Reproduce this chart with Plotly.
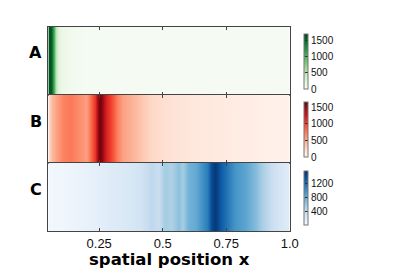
import plotly.graph_objects as go

# ---- data ----
x_A = [0.05, 0.06, 0.066, 0.072, 0.078, 0.085, 0.095, 0.11, 0.13, 0.16, 0.20, 0.30, 0.50, 0.75, 1.0]
a_vals = [1650, 1550, 1300, 900, 550, 300, 180, 120, 80, 50, 35, 25, 20, 20, 20]

x_B = [0.05, 0.063, 0.083, 0.11, 0.137, 0.167, 0.198, 0.217, 0.233, 0.244, 0.252, 0.263,
       0.275, 0.29, 0.306, 0.321, 0.34, 0.379, 0.417, 0.456, 0.513, 0.59, 0.706, 0.821, 0.937, 1.0]
b_vals = [200, 400, 550, 700, 750, 650, 550, 800, 1100, 1450, 1620, 1500,
          1200, 1050, 900, 700, 550, 450, 350, 250, 200, 150, 110, 80, 50, 40]

x_C = [0.05, 0.129, 0.206, 0.283, 0.36, 0.417, 0.456, 0.483, 0.506, 0.533, 0.56, 0.579,
       0.602, 0.629, 0.652, 0.675, 0.69, 0.706, 0.725, 0.752, 0.783, 0.821, 0.86, 0.898,
       0.937, 0.975, 1.0]
c_vals = [50, 70, 120, 180, 230, 290, 420, 350, 550, 500, 650, 550,
          750, 800, 950, 1100, 1400, 1500, 1300, 1150, 950, 850, 700, 500,
          320, 220, 180]

panel_labels = ["A", "B", "C"]
x_ticks = [0.25, 0.5, 0.75, 1.0]
x_tick_text = ["0.25", "0.5", "0.75", "1.0"]
cb_ticks = [[0, 500, 1000, 1500], [0, 500, 1000, 1500], [400, 800, 1200]]
z_ranges = [(0, 1700), (0, 1650), (0, 1550)]
scales = ["Greens", "Reds", "Blues"]

W, H = 398, 273
x_left, x_right = 49.5, 296.5
panel_px = [(27, 95), (95, 163), (163, 231)]
cb_px = [(34, 89), (102, 157), (171, 225)]

fig = go.Figure()
series = [(x_A, a_vals), (x_B, b_vals), (x_C, c_vals)]
for i, (xs, vs) in enumerate(series):
    n = i + 1
    top, bot = cb_px[i]
    fig.add_trace(go.Heatmap(
        x=xs, y=[0, 1], z=[vs, vs],
        colorscale=scales[i], zmin=z_ranges[i][0], zmax=z_ranges[i][1],
        zsmooth="best",
        xaxis=f"x{n if n > 1 else ''}", yaxis=f"y{n if n > 1 else ''}",
        colorbar=dict(
            x=311.5 / W, xanchor="left", xpad=0, ypad=0,
            y=1 - (top + bot) / 2 / H, yanchor="middle",
            len=bot - top, lenmode="pixels",
            thickness=4, outlinewidth=1, outlinecolor="#777",
            tickvals=cb_ticks[i], ticks="inside", ticklen=3, tickcolor="#333",
            tickfont=dict(family="Liberation Sans", size=10, color="#111"),
        ),
    ))

layout = dict(
    width=W, height=H,
    margin=dict(l=0, r=0, t=0, b=0),
    paper_bgcolor="white", plot_bgcolor="white",
    showlegend=False,
)
for i in range(3):
    n = i + 1
    key = "" if n == 1 else str(n)
    top, bot = panel_px[i]
    layout[f"xaxis{key}"] = dict(
        domain=[x_left / W, x_right / W], range=[0.05, 1.0],
        anchor=f"y{key}",
        tickvals=x_ticks, ticktext=x_tick_text,
        showticklabels=(n == 3),
        ticks="inside", ticklen=3, tickcolor="#444",
        showline=True, linecolor="#444", linewidth=1, mirror="ticks",
        showgrid=False, zeroline=False,
        tickfont=dict(family="Liberation Sans", size=13, color="#111"),
    )
    layout[f"yaxis{key}"] = dict(
        domain=[1 - bot / H, 1 - top / H], range=[0, 1],
        anchor=f"x{key}",
        showticklabels=False, ticks="",
        showline=True, linecolor="#444", linewidth=1, mirror=True,
        showgrid=False, zeroline=False,
    )

annotations = []
label_y = [53, 122, 189]
for i, lab in enumerate(panel_labels):
    annotations.append(dict(
        text=f"<b>{lab}</b>", x=36.5 / W, y=1 - label_y[i] / H,
        xref="paper", yref="paper", showarrow=False,
        xanchor="center", yanchor="middle",
        font=dict(family="DejaVu Sans", size=16, color="black"),
    ))
annotations.append(dict(
    text="<b>spatial position x</b>", x=173 / W, y=1 - 259 / H,
    xref="paper", yref="paper", showarrow=False,
    xanchor="center", yanchor="middle",
    font=dict(family="DejaVu Sans", size=16.5, color="black"),
))
layout["annotations"] = annotations

fig.update_layout(**layout)
fig.write_html("out.html",
               config={"displayModeBar": False},
               post_script="document.body.style.margin='0px';document.body.style.overflow='hidden';")
